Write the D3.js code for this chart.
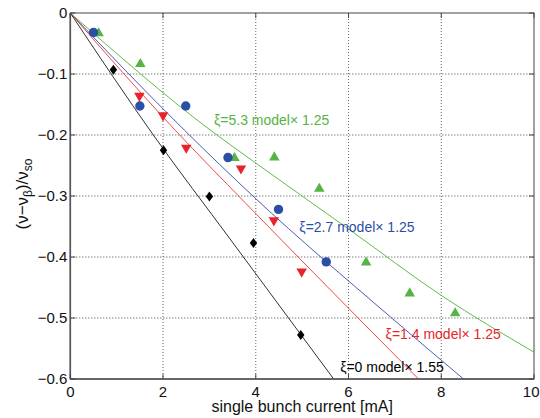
<!DOCTYPE html>
<html>
<head>
<meta charset="utf-8">
<script src="https://cdn.jsdelivr.net/npm/d3@7/dist/d3.min.js"></script>
<style>
  html, body { margin: 0; padding: 0; background: #fff; }
  svg { display: block; font-family: "Liberation Sans", Arial, Helvetica, sans-serif; }
</style>
</head>
<body>
<svg id="chart" width="540" height="418"></svg>
<script>
// ---- data ----
const xTicks = [0, 2, 4, 6, 8, 10];
const yTicks = [0, -0.1, -0.2, -0.3, -0.4, -0.5, -0.6];
const xTickLabels = ["0", "2", "4", "6", "8", "10"];
const yTickLabels = ["0", "\u22120.1", "\u22120.2", "\u22120.3", "\u22120.4", "\u22120.5", "\u22120.6"];

// measured points
const xi0X = [0.93, 2.01, 3.0, 3.95, 4.97];
const xi0Y = [-0.093, -0.225, -0.301, -0.377, -0.528];
const xi14X = [1.49, 2.0, 2.5, 3.68, 4.39, 4.99];
const xi14Y = [-0.137, -0.169, -0.222, -0.256, -0.341, -0.425];
const xi27X = [0.50, 1.50, 2.49, 3.40, 4.49, 5.52];
const xi27Y = [-0.032, -0.1525, -0.1525, -0.237, -0.322, -0.408];
const xi53X = [0.61, 1.51, 3.54, 4.40, 5.37, 6.38, 7.32, 8.30];
const xi53Y = [-0.032, -0.0825, -0.2366, -0.2355, -0.287, -0.408, -0.4585, -0.491];

// model curves
const model0X = [0, 1.79, 3.48, 5.68];
const model0Y = [0, -0.2, -0.374, -0.6];
const model14X = [0, 2.26, 3.77, 6.22, 7.51];
const model14Y = [0, -0.192, -0.311, -0.501, -0.6];
const model27X = [0, 2.46, 3.98, 6.90, 8.48];
const model27Y = [0, -0.192, -0.303, -0.498, -0.6];
const model53X = [0, 3.02, 4, 6, 8, 10];
const model53Y = [0, -0.192, -0.246, -0.354, -0.463, -0.556];

// labels
const labelTexts = ["\u03BE=5.3 model\u00D7 1.25", "\u03BE=2.7 model\u00D7 1.25", "\u03BE=1.4 model\u00D7 1.25", "\u03BE=0 model\u00D7 1.55"];
const labelX = [3.10, 4.94, 6.80, 5.82];
const labelY = [-0.183, -0.359, -0.535, -0.5885];

const xTitle = "single bunch current [mA]";

// ---- styles ----
const colGreen = "#55b443", colBlue = "#2a4fa6", colRed = "#e9232a", colBlack = "#000";
const lineGreen = "#63b94a", lineBlue = "#4a5cb0", lineRed = "#ef4a4a", lineBlack = "#333";

const svg = d3.select("#chart");
const L = 70.3, R = 534, T = 13, B = 379;
const x = d3.scaleLinear().domain([0, 10]).range([L, R]);
const y = d3.scaleLinear().domain([-0.6, 0]).range([B, T]);

// grid
const grid = svg.append("g");
grid.selectAll("line.vg").data(xTicks.slice(1, -1)).enter().append("line")
  .attr("x1", d => x(d)).attr("x2", d => x(d)).attr("y1", T).attr("y2", B)
  .attr("stroke", "#666").attr("stroke-width", 1).attr("stroke-dasharray", "1,2");
grid.selectAll("line.hg").data(yTicks.slice(1, -1)).enter().append("line")
  .attr("x1", L).attr("x2", R).attr("y1", d => y(d)).attr("y2", d => y(d))
  .attr("stroke", "#444").attr("stroke-width", 1).attr("stroke-dasharray", "1,2");

// model lines
const lineGen = d3.line().x(d => x(d[0])).y(d => y(d[1])).curve(d3.curveMonotoneX);
svg.append("clipPath").attr("id", "pc").append("rect")
  .attr("x", L).attr("y", T).attr("width", R - L).attr("height", B - T);
const models = [
  [model53X, model53Y, lineGreen],
  [model27X, model27Y, lineBlue],
  [model14X, model14Y, lineRed],
  [model0X, model0Y, lineBlack]
];
models.forEach(([mx, my, c]) => {
  svg.append("path").datum(mx.map((v, i) => [v, my[i]]))
    .attr("d", lineGen).attr("fill", "none").attr("stroke", c).attr("stroke-width", 1)
    .attr("clip-path", "url(#pc)");
});

// markers
function pts(xs, ys) { return xs.map((v, i) => [v, ys[i]]); }
const g = svg.append("g");
const triUp = d3.symbol().type(d3.symbolTriangle).size(48)();
g.selectAll("path.g").data(pts(xi53X, xi53Y)).enter().append("path")
  .attr("d", triUp).attr("transform", d => `translate(${x(d[0])},${y(d[1]) + 0.7})`)
  .attr("fill", colGreen);
g.selectAll("path.r").data(pts(xi14X, xi14Y)).enter().append("path")
  .attr("d", triUp).attr("transform", d => `translate(${x(d[0])},${y(d[1]) - 0.7}) rotate(180)`)
  .attr("fill", colRed);
g.selectAll("circle.b").data(pts(xi27X, xi27Y)).enter().append("circle")
  .attr("cx", d => x(d[0])).attr("cy", d => y(d[1])).attr("r", 4.7)
  .attr("fill", colBlue);
g.selectAll("path.k").data(pts(xi0X, xi0Y)).enter().append("path")
  .attr("d", "M0,-5L3.7,0L0,5L-3.7,0Z")
  .attr("transform", d => `translate(${x(d[0])},${y(d[1])})`)
  .attr("fill", colBlack);

// frame
svg.append("rect").attr("x", L).attr("y", T).attr("width", R - L).attr("height", B - T)
  .attr("fill", "none").attr("stroke", "#444").attr("stroke-width", 1);
svg.append("line").attr("x1", L).attr("x2", L).attr("y1", T).attr("y2", B)
  .attr("stroke", "#555").attr("stroke-width", 1.6);
svg.append("line").attr("x1", L).attr("x2", R).attr("y1", B).attr("y2", B)
  .attr("stroke", "#555").attr("stroke-width", 1.4);

// ticks (inward, all four sides)
const tk = 5;
const ticks = svg.append("g").attr("stroke", "#444").attr("stroke-width", 1);
xTicks.forEach(v => {
  ticks.append("line").attr("x1", x(v)).attr("x2", x(v)).attr("y1", B).attr("y2", B - tk);
  ticks.append("line").attr("x1", x(v)).attr("x2", x(v)).attr("y1", T).attr("y2", T + tk);
});
yTicks.forEach(v => {
  ticks.append("line").attr("x1", L).attr("x2", L + tk).attr("y1", y(v)).attr("y2", y(v));
  ticks.append("line").attr("x1", R).attr("x2", R - tk).attr("y1", y(v)).attr("y2", y(v));
});

// tick labels
svg.append("g").selectAll("text").data(xTicks).enter().append("text")
  .attr("x", (d, i) => i === xTicks.length - 1 ? 539.5 : x(d)).attr("y", B + 17.5)
  .attr("text-anchor", (d, i) => i === xTicks.length - 1 ? "end" : "middle")
  .attr("font-size", 15).attr("fill", "#111").text((d, i) => xTickLabels[i]);
svg.append("g").selectAll("text").data(yTicks).enter().append("text")
  .attr("x", L - 3).attr("y", d => y(d) + 5.3).attr("text-anchor", "end")
  .attr("font-size", 15).attr("fill", "#111").text((d, i) => yTickLabels[i]);

// axis titles
svg.append("text").attr("x", (L + R) / 2).attr("y", 412).attr("text-anchor", "middle")
  .attr("font-size", 16).attr("fill", "#111").text(xTitle);

const yl = svg.append("text").attr("transform", "translate(28,194) rotate(-90)")
  .attr("text-anchor", "middle").attr("font-size", 17).attr("fill", "#111");
yl.append("tspan").text("(\u03BD\u2212\u03BD");
yl.append("tspan").attr("font-size", 12).attr("dy", 4).text("\u03B2");
yl.append("tspan").attr("dy", -4).text(")/\u03BD");
yl.append("tspan").attr("font-size", 12).attr("dy", 4).text("so");

// model labels
const labelCols = [colGreen, colBlue, colRed, colBlack];
svg.append("g").selectAll("text").data(labelTexts).enter().append("text")
  .attr("x", (d, i) => x(labelX[i])).attr("y", (d, i) => y(labelY[i]))
  .attr("font-size", 14).attr("fill", (d, i) => labelCols[i]).text(d => d);
</script>
</body>
</html>
